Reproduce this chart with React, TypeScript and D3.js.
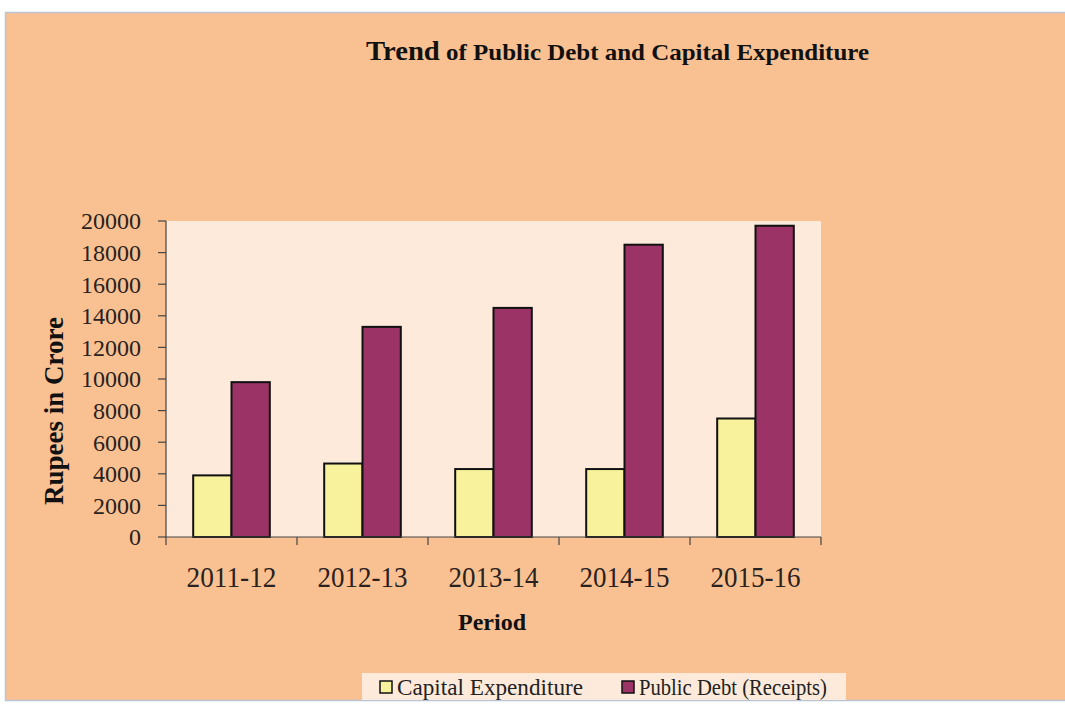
import React from "react";
import * as d3 from "d3";

const periods = ["2011-12", "2012-13", "2013-14", "2014-15", "2015-16"];
const capitalExpenditure = [3900, 4650, 4300, 4300, 7500];
const publicDebt = [9800, 13300, 14500, 18500, 19700];
const yTicks = [0, 2000, 4000, 6000, 8000, 10000, 12000, 14000, 16000, 18000, 20000];
const seriesNames = ["Capital Expenditure", "Public Debt (Receipts)"];
const seriesColors = ["#f9f29c", "#9b3366"];

const W = 1065;
const H = 705;
const plot = { left: 166, right: 821, top: 221, bottom: 537 };

export default function App() {
  const x0 = d3.scaleBand<string>().domain(periods).range([plot.left, plot.right]).paddingInner(0).paddingOuter(0);
  const x1 = d3.scaleBand<number>().domain([0, 1]).range([0, x0.bandwidth()]).paddingInner(0).paddingOuter(0.71);
  const y = d3.scaleLinear().domain([0, 20000]).range([plot.bottom, plot.top]);
  const series = [capitalExpenditure, publicDebt];
  const serif = "'Liberation Serif', 'Times New Roman', serif";
  const boundaries = periods.map((p) => x0(p)!).concat([plot.right]);
  const legendX = [380, 622];
  const legendLen = [186, 188];

  return (
    <svg width={W} height={H} style={{ position: "absolute", left: 0, top: 0 }} fontFamily={serif}>
      <rect x={0} y={0} width={W} height={H} fill="#ffffff" />
      <rect x={5.5} y={12.5} width={W} height={688} fill="#f9c192" stroke="#b9c5d6" strokeWidth={1.5} />
      <text x={366} y={60} fontWeight="bold" fill="#111" textLength={503} lengthAdjust="spacingAndGlyphs">
        <tspan fontSize={27}>Trend</tspan>
        <tspan fontSize={23.5}> of Public Debt and Capital Expenditure</tspan>
      </text>
      <rect x={plot.left} y={plot.top} width={plot.right - plot.left} height={plot.bottom - plot.top} fill="#fdeadb" />
      {series.map((vals, si) =>
        periods.map((p, i) => (
          <rect
            key={`${si}-${i}`}
            x={x0(p)! + x1(si)!}
            y={y(vals[i])}
            width={x1.bandwidth()}
            height={y(0) - y(vals[i])}
            fill={seriesColors[si]}
            stroke="#111"
            strokeWidth={2}
          />
        ))
      )}
      <line x1={plot.left} x2={plot.left} y1={plot.top} y2={plot.bottom} stroke="#444" strokeWidth={1.2} />
      <line x1={plot.left} x2={plot.right} y1={plot.bottom} y2={plot.bottom} stroke="#444" strokeWidth={1.2} />
      {yTicks.map((t) => (
        <g key={t}>
          <line x1={plot.left - 8} x2={plot.left} y1={y(t)} y2={y(t)} stroke="#444" strokeWidth={1.2} />
          <text x={141} y={y(t)} dy="0.35em" textAnchor="end" fontSize={24} fill="#2a2220">
            {t}
          </text>
        </g>
      ))}
      {boundaries.map((b, i) => (
        <line key={i} x1={b} x2={b} y1={plot.bottom} y2={plot.bottom + 8} stroke="#444" strokeWidth={1.2} />
      ))}
      {periods.map((p) => (
        <text
          key={p}
          x={x0(p)! + x0.bandwidth() / 2 - 45}
          y={587}
          fontSize={29}
          fill="#2a2220"
          textLength={90}
          lengthAdjust="spacingAndGlyphs"
        >
          {p}
        </text>
      ))}
      <text x={492} y={630} textAnchor="middle" fontSize={24} fontWeight="bold" fill="#111">
        Period
      </text>
      <text
        transform={`translate(63, ${411}) rotate(-90)`}
        textAnchor="middle"
        fontSize={27}
        fontWeight="bold"
        fill="#111"
      >
        Rupees in Crore
      </text>
      <rect x={362} y={673} width={484} height={27} fill="#fdeadb" />
      {seriesNames.map((n, i) => {
        const lx = legendX[i];
        return (
          <g key={n}>
            <rect x={lx} y={681} width={12} height={12} fill={seriesColors[i]} stroke="#111" strokeWidth={1.5} />
            <text x={lx + 17} y={695} fontSize={23} fill="#222" textLength={legendLen[i]} lengthAdjust="spacingAndGlyphs">
              {n}
            </text>
          </g>
        );
      })}
    </svg>
  );
}
